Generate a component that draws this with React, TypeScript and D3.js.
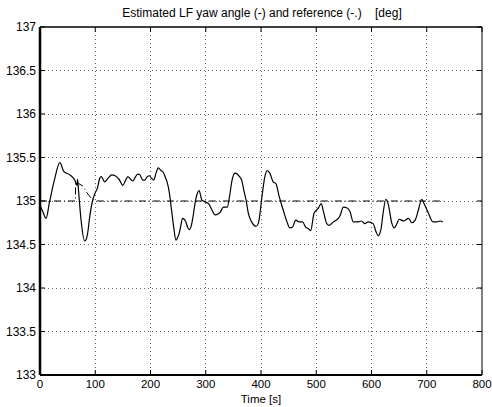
import React from "react";
import * as d3 from "d3";

const xTicks = [0, 100, 200, 300, 400, 500, 600, 700, 800];
const yTicks = [133, 133.5, 134, 134.5, 135, 135.5, 136, 136.5, 137];
const yTickLabels = ["133", "133.5", "134", "134.5", "135", "135.5", "136", "136.5", "137"];

const estT = [0, 5, 11, 17, 26, 36, 43, 54, 63, 67, 68, 70, 74, 81, 86, 90, 95, 99, 104, 108, 111, 117, 123, 130, 136, 143, 150, 155, 159, 164, 168, 173, 177, 181, 186, 190, 194, 198, 202, 206, 210, 214, 219, 223, 227, 230, 234, 238, 242, 246, 249, 252, 255, 258, 261, 264, 267, 270, 274, 277, 280, 283, 288, 293, 299, 305, 311, 317, 322, 326, 332, 339, 343, 347, 353, 357, 361, 365, 369, 373, 377, 383, 391, 395, 398, 401, 407, 411, 416, 422, 427, 433, 440, 447, 452, 457, 463, 469, 475, 481, 486, 490, 496, 504, 509, 513, 519, 524, 531, 536, 540, 543, 549, 556, 561, 567, 576, 582, 588, 594, 603, 608, 612, 617, 621, 626, 630, 637, 641, 646, 650, 658, 667, 673, 679, 685, 691, 695, 703, 711, 718, 724, 729];
const estV = [134.95, 134.88, 134.8, 134.98, 135.24, 135.44, 135.34, 135.3, 135.24, 135.18, 135.25, 135.1, 134.8, 134.54, 134.62, 134.82, 135.0, 135.08, 135.15, 135.26, 135.28, 135.22, 135.26, 135.3, 135.29, 135.25, 135.18, 135.24, 135.28, 135.25, 135.23, 135.28, 135.31, 135.3, 135.24, 135.24, 135.28, 135.29, 135.26, 135.24, 135.32, 135.38, 135.35, 135.33, 135.27, 135.22, 135.1, 134.9, 134.7, 134.55, 134.58, 134.63, 134.72, 134.8, 134.79, 134.76, 134.7, 134.67, 134.72, 134.82, 134.95, 135.05, 135.12, 135.01, 134.99, 134.97, 134.9, 134.84, 134.85, 134.87, 134.93, 134.93, 135.05, 135.22, 135.32, 135.31, 135.28, 135.24, 135.12, 135.01, 134.86, 134.76, 134.71, 134.74, 134.85, 135.01, 135.28, 135.35, 135.32, 135.22, 135.2, 135.05, 134.9, 134.76, 134.69, 134.7, 134.78, 134.76, 134.76, 134.7, 134.68, 134.66, 134.86, 134.92, 134.97, 134.88, 134.74, 134.72, 134.76, 134.78, 134.8, 134.83, 134.93, 134.92, 134.88, 134.76, 134.76, 134.77, 134.74, 134.76, 134.74, 134.65, 134.6, 134.67, 134.86, 135.02, 134.97, 134.74, 134.69, 134.74, 134.79, 134.77, 134.8, 134.75, 134.78, 134.9, 135.02, 134.97, 134.86, 134.76, 134.76, 134.77, 134.76];

const refT = [0, 64, 64.5, 70, 78, 83, 88, 93, 98, 105, 730];
const refV = [135, 135, 135.22, 135.2, 135.17, 135.11, 135.07, 135.03, 135.01, 135.0, 135.0];

const W = 492;
const H = 407;
const L = 40, R = 482, T = 27, B = 375;

export default function App() {
  const x = d3.scaleLinear().domain([0, 800]).range([L, R]);
  const y = d3.scaleLinear().domain([133, 137]).range([B, T]);
  const line = d3.line<[number, number]>().x(d => x(d[0])).y(d => y(d[1])).curve(d3.curveMonotoneX);
  const est = line(estT.map((t, i) => [t, estV[i]] as [number, number])) || "";
  const refLine = d3.line<[number, number]>().x(d => x(d[0])).y(d => y(d[1]));
  const ref = refLine(refT.map((t, i) => [t, refV[i]] as [number, number])) || "";
  const font = "'Liberation Sans', Arial, Helvetica, sans-serif";
  const tl = 5;
  return (
    <svg width={W} height={H} style={{ position: "absolute", left: 0, top: 0 }} fontFamily={font}>
      <rect x={0} y={0} width={W} height={H} fill="#fff" />
      {xTicks.slice(1, -1).map(t => (
        <line key={"gx" + t} x1={x(t)} x2={x(t)} y1={T} y2={B} stroke="#666" strokeWidth={1} strokeDasharray="1,3" shapeRendering="crispEdges" />
      ))}
      {yTicks.slice(1, -1).map(v => (
        <line key={"gy" + v} x1={L} x2={R} y1={y(v)} y2={y(v)} stroke="#666" strokeWidth={1} strokeDasharray="1,3" shapeRendering="crispEdges" />
      ))}
      <path d={ref} fill="none" stroke="#000" strokeWidth={1} strokeDasharray="7,3,1,3" />
      <path d={est} fill="none" stroke="#000" strokeWidth={1.2} />
      {xTicks.map(t => (
        <g key={"tx" + t}>
          <line x1={x(t)} x2={x(t)} y1={B} y2={B - tl} stroke="#000" />
          <line x1={x(t)} x2={x(t)} y1={T} y2={T + tl} stroke="#000" />
          <text x={x(t)} y={388} fontSize={11.5} textAnchor="middle">{t}</text>
        </g>
      ))}
      {yTicks.map((v, i) => (
        <g key={"ty" + v}>
          <line x1={L} x2={L + tl} y1={y(v)} y2={y(v)} stroke="#000" />
          <line x1={R} x2={R - tl} y1={y(v)} y2={y(v)} stroke="#000" />
          <text x={36} y={y(v) + 4} fontSize={12} textAnchor="end">{yTickLabels[i]}</text>
        </g>
      ))}
      <line x1={L} x2={R} y1={T} y2={T} stroke="#000" strokeWidth={1.5} />
      <line x1={R} x2={R} y1={T} y2={B} stroke="#000" strokeWidth={1} />
      <line x1={L} x2={R} y1={B} y2={B} stroke="#000" strokeWidth={2} />
      <line x1={L} x2={L} y1={T} y2={B} stroke="#000" strokeWidth={2.5} />
      <text x={262} y={17} fontSize={12} textAnchor="middle" style={{ whiteSpace: "pre" }} xmlSpace="preserve">{"Estimated LF yaw angle (-) and reference (-.)    [deg]"}</text>
      <text x={261} y={403} fontSize={11.5} textAnchor="middle">Time [s]</text>
    </svg>
  );
}
